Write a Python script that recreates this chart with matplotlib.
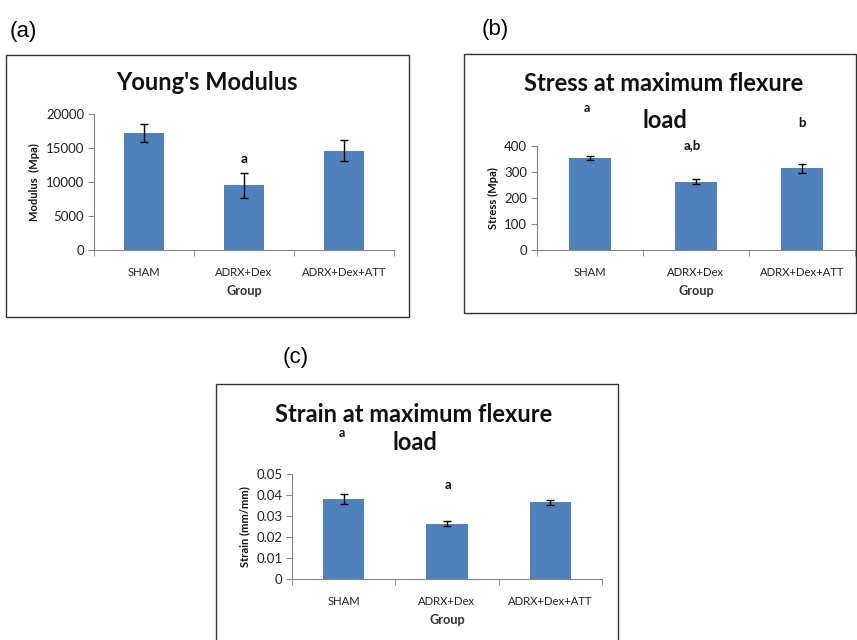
import matplotlib
matplotlib.use("Agg")
import matplotlib.pyplot as plt
from matplotlib.patches import Rectangle

groups = ["SHAM", "ADRX+Dex", "ADRX+Dex+ATT"]

modulus = [17200, 9500, 14600]
modulus_err = [1350, 1850, 1550]
modulus_ticks = [0, 5000, 10000, 15000, 20000]

stress = [354, 263, 314]
stress_err = [8, 9, 18]
stress_ticks = [0, 100, 200, 300, 400]

strain = [0.0381, 0.0263, 0.0366]
strain_err = [0.0024, 0.0012, 0.0012]
strain_ticks = [0, 0.01, 0.02, 0.03, 0.04, 0.05]
strain_ticklabels = ["0", "0.01", "0.02", "0.03", "0.04", "0.05"]

W, H = 857, 640
fig = plt.figure(figsize=(W / 100, H / 100), dpi=100)
fig.patch.set_facecolor("white")

BAR = "#4F81BD"
AXC = "#868686"
TF = "Lato"
TSIZE = 17


def fx(x):
    return x / W


def fy(y):
    return 1 - y / H


def box(x0, y0, x1, y1):
    fig.patches.append(Rectangle((fx(x0), fy(y1)), fx(x1 - x0), (y1 - y0) / H,
                                 transform=fig.transFigure, fill=False,
                                 edgecolor="#333333", linewidth=1.0))


def ftext(x, y, s, size, bold=True, family=TF, va="baseline"):
    fig.text(fx(x), fy(y), s, ha="center", va=va, fontsize=size,
             fontweight="bold" if bold else "normal", family=family,
             color="#111111")


def panel(x0, x1, ytop, y0, vals, errs, ticks, ticklabels, ylabel):
    ax = fig.add_axes([fx(x0), fy(y0), fx(x1 - x0), (y0 - ytop) / H])
    xs = range(len(groups))
    ax.bar(xs, vals, width=0.4, color=BAR, yerr=errs, capsize=3,
           error_kw=dict(ecolor="black", elinewidth=1.0, capthick=1.0))
    ax.set_xlim(-0.5, len(groups) - 0.5)
    ax.set_ylim(ticks[0], ticks[-1])
    ax.set_yticks(ticks)
    ax.set_yticklabels(ticklabels if ticklabels else [str(t) for t in ticks],
                       fontsize=9.5, family=TF, color="#222222")
    ax.set_xticks(list(xs))
    ax.set_xticklabels(groups, fontsize=8.1, family=TF, color="#222222")
    ax.set_xticks([-0.5, 0.5, 1.5, 2.5], minor=True)
    ax.tick_params(axis="x", which="major", length=0, pad=12)
    ax.tick_params(axis="x", which="minor", length=4, color=AXC, direction="out")
    ax.tick_params(axis="y", length=4, color=AXC, direction="out", pad=3)
    for s in ["top", "right"]:
        ax.spines[s].set_visible(False)
    for s in ["left", "bottom"]:
        ax.spines[s].set_color(AXC)
    ax.set_xlabel("Group", fontsize=9.2, fontweight="bold", family=TF,
                  color="#333333", labelpad=5)
    ax.set_ylabel(ylabel, fontsize=8, fontweight="bold", family=TF,
                  color="#111111", labelpad=4)
    ax.set_facecolor("none")
    return ax


# Panel (a)
box(6, 55, 409, 317)
axa = panel(94, 394, 114, 250, modulus, modulus_err, modulus_ticks, None,
            "Modulus  (Mpa)")
axa.text(1, 13400, "a", ha="center", va="center", fontsize=10,
         fontweight="bold", family=TF)
ftext(207, 90, "Young's Modulus", TSIZE)
fig.text(fx(10), fy(31), "(a)", ha="left", va="center", fontsize=16,
         family="Liberation Sans")

# Panel (b)
box(464, 54, 856, 313)
axb = panel(537, 855, 146, 250, stress, stress_err, stress_ticks, None,
            "Stress (Mpa)")
ftext(664, 91, "Stress at maximum flexure", TSIZE)
ftext(665, 128, "load", TSIZE)
ftext(587, 112, "a", 9)
ftext(692, 149, "a,b", 9.5)
ftext(802, 127, "b", 9.5)
fig.text(fx(482), fy(29), "(b)", ha="left", va="center", fontsize=16,
         family="Liberation Sans")

# Panel (c)
box(216, 384, 618, 645)
axc = panel(292, 602, 474, 579, strain, strain_err, strain_ticks,
            strain_ticklabels, "Strain (mm/mm)")
ftext(414, 422, "Strain at maximum flexure", TSIZE)
ftext(415, 450, "load", TSIZE)
ftext(342, 437, "a", 9)
ftext(448, 489, "a", 9.5)
fig.text(fx(283), fy(357), "(c)", ha="left", va="center", fontsize=16,
         family="Liberation Sans")

fig.savefig("out.png", dpi=100, facecolor="white")
